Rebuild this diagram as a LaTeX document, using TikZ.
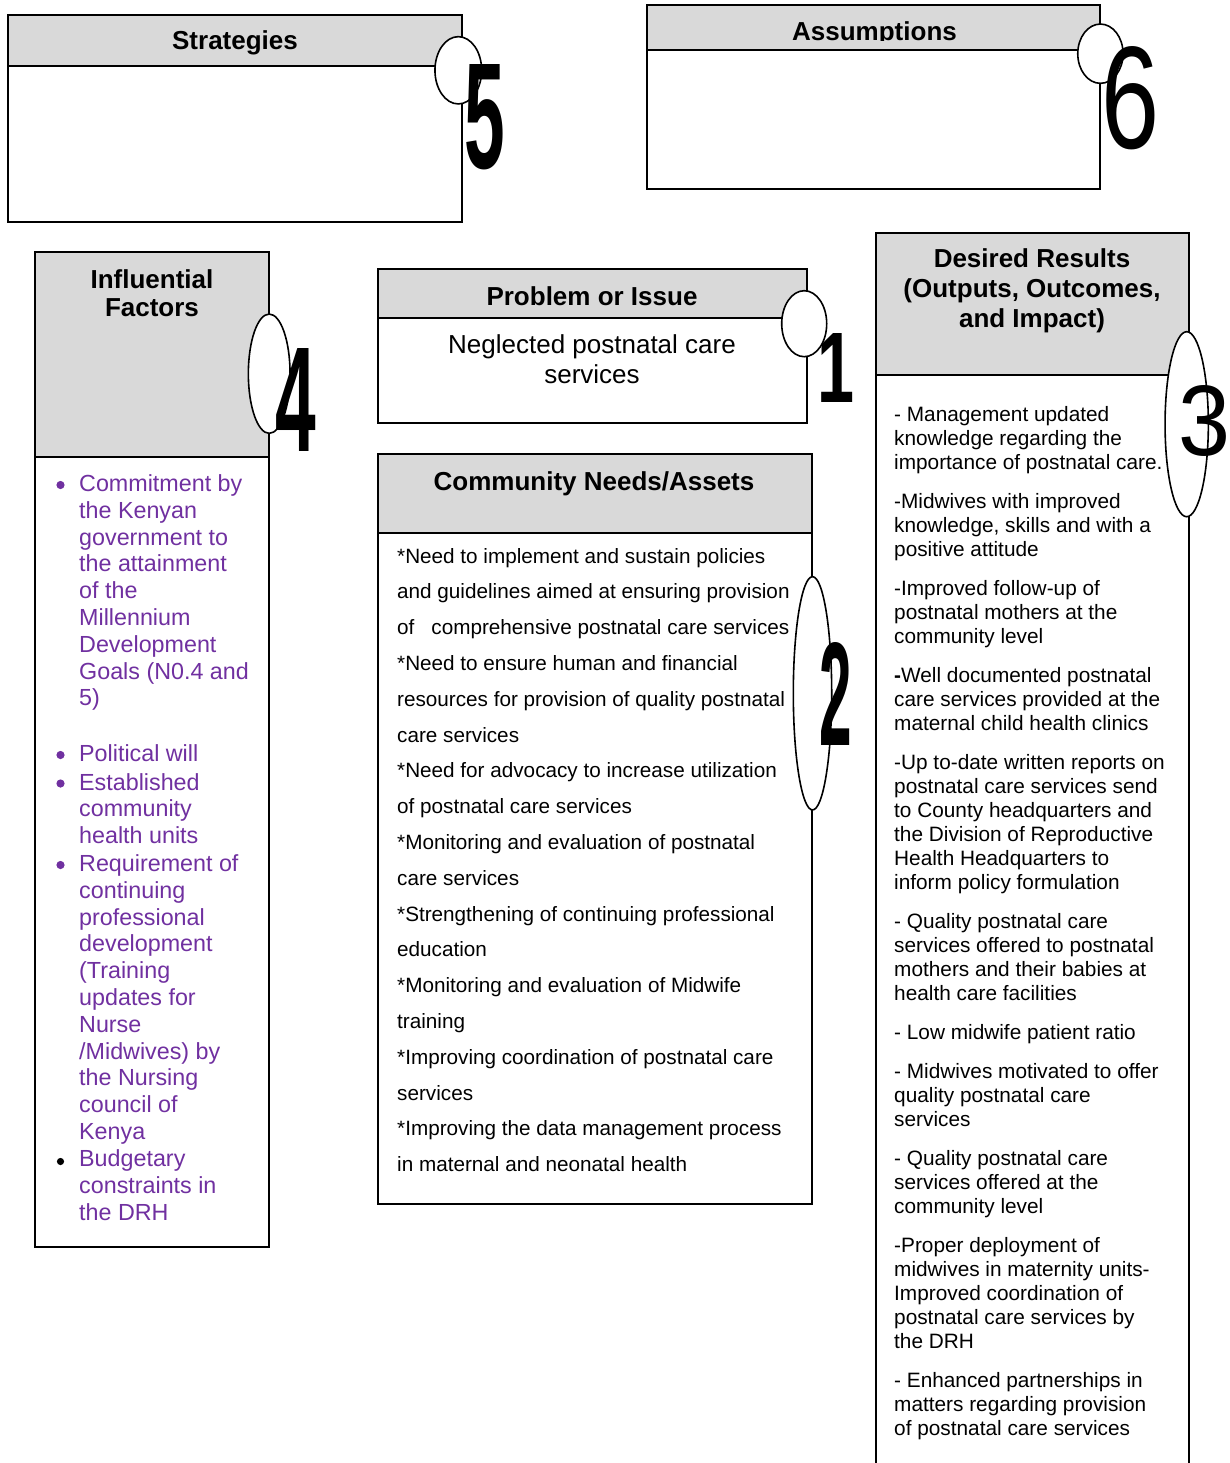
\documentclass[tikz,border=0pt]{standalone}
\usepackage{fontspec}
\setmainfont{Liberation Sans}
\usepackage{graphicx}
\usetikzlibrary{shapes.geometric}
\definecolor{hdrgray}{RGB}{217,217,217}
\definecolor{infpurple}{RGB}{112,48,160}
\newcommand{\bigdigit}[4]{\resizebox{#1pt}{#2pt}{\fontsize{100}{100}\selectfont#3#4}}
\begin{document}
\begin{tikzpicture}[x=1pt,y=-1pt,
  frame/.style={draw=black, line width=1.6pt},
  ell/.style={ellipse, draw=black, line width=1.6pt, fill=white, inner sep=0pt},
  ttl/.style={font=\fontsize{26}{30}\selectfont\bfseries, inner sep=0pt, anchor=base},
  probtxt/.style={font=\fontsize{26}{30}\selectfont, inner sep=0pt, anchor=base},
  para/.style={inner sep=0pt, anchor=base west},
  num/.style={inner sep=0pt, anchor=center},
  pbul/.style={fill=infpurple, draw=none},
  kbul/.style={fill=black, draw=none}]
\useasboundingbox (0,0) rectangle (1229,1463);
\clip (0,0) rectangle (1229,1463);

% ---------- Strategies ----------
\fill[hdrgray] (8,15) rectangle (462,66);
\draw[frame] (8,15) rectangle (462,222);
\draw[frame] (8,66) -- (462,66);
\node[ttl] (tStr) at (235,50) {Strategies};

% ---------- Assumptions ----------
\fill[hdrgray] (647,5) rectangle (1100,50);
\draw[frame] (647,5) rectangle (1100,189);
\draw[frame] (647,50) -- (1100,50);
\begin{scope}
  \clip (647,5) rectangle (1100,41);
  \node[ttl] (tAss) at (874.5,40.5) {Assumptions};
\end{scope}

% ---------- Influential Factors ----------
\fill[hdrgray] (35,252) rectangle (269,457);
\draw[frame] (35,252) rectangle (269,1247);
\draw[frame] (35,457) -- (269,457);
\node[ttl] (tInfA) at (152,288) {Influential};
\node[ttl] (tInfB) at (152,316) {Factors};

\fill[pbul] (60.5,485) circle (4.1);
\fill[pbul] (60.5,755) circle (4.1);
\fill[pbul] (60.5,783.5) circle (4.1);
\fill[pbul] (60.5,865) circle (4.1);
\fill[kbul] (60.5,1161.5) circle (3.6);
\node[para, text=infpurple] (inf1) at (79,491.5) {\parbox[t]{190pt}{\fontsize{23.3}{26.8}\selectfont
Commitment by\\the Kenyan\\government to\\the attainment\\of the\\Millennium\\Development\\Goals (N0.4 and\\5)}};
\node[para, text=infpurple] (inf2) at (79,761.5) {\parbox[t]{190pt}{\fontsize{23.3}{26.8}\selectfont
Political will}};
\node[para, text=infpurple] (inf3) at (79,790) {\parbox[t]{190pt}{\fontsize{23.3}{26.8}\selectfont
Established\\community\\health units}};
\node[para, text=infpurple] (inf4) at (79,871.5) {\parbox[t]{190pt}{\fontsize{23.3}{26.8}\selectfont
Requirement of\\continuing\\professional\\development\\(Training\\updates for\\Nurse\\/Midwives) by\\the Nursing\\council of\\Kenya}};
\node[para, text=infpurple] (inf5) at (79,1166.5) {\parbox[t]{190pt}{\fontsize{23.3}{26.8}\selectfont
Budgetary\\constraints in\\the DRH}};

% ---------- Problem or Issue ----------
\fill[hdrgray] (378,269) rectangle (807,318);
\draw[frame] (378,269) rectangle (807,423);
\draw[frame] (378,318) -- (807,318);
\node[ttl] (tProb) at (592,305) {Problem or Issue};
\node[probtxt] (prA) at (592,353) {Neglected postnatal care};
\node[probtxt] (prB) at (592,383) {services};

% ---------- Community Needs/Assets ----------
\fill[hdrgray] (378,454) rectangle (812,533);
\draw[frame] (378,454) rectangle (812,1204);
\draw[frame] (378,533) -- (812,533);
\node[ttl] (tCom) at (594,490) {Community Needs/Assets};
\node[para] (com) at (397,563) {\parbox[t]{420pt}{\fontsize{20.7}{35.8}\selectfont
{*}Need to implement and sustain policies\\
and guidelines aimed at ensuring provision\\
of\hspace*{17pt}comprehensive postnatal care services\\
{*}Need to ensure human and financial\\
resources for provision of quality postnatal\\
care services\\
{*}Need for advocacy to increase utilization\\
of postnatal care services\\
{*}Monitoring and evaluation of postnatal\\
care services\\
{*}Strengthening of continuing professional\\
education\\
{*}Monitoring and evaluation of Midwife\\
training\\
{*}Improving coordination of postnatal care\\
services\\
{*}Improving the data management process\\
in maternal and neonatal health}};

% ---------- Desired Results ----------
\fill[hdrgray] (876,233) rectangle (1189,375);
\draw[frame] (876,1475) -- (876,233) -- (1189,233) -- (1189,1475);
\draw[frame] (876,375) -- (1189,375);
\node[ttl] (tDesA) at (1032,267) {Desired Results};
\node[ttl] (tDesB) at (1032,297) {(Outputs, Outcomes,};
\node[ttl] (tDesC) at (1032,327) {and Impact)};
\node[para] (des) at (894,421) {\parbox[t]{300pt}{\fontsize{20.8}{24}\selectfont
- Management updated\\knowledge regarding the\\importance of postnatal care.\\[15pt]
-Midwives with improved\\knowledge, skills and with a\\positive attitude\\[15pt]
-Improved follow-up of\\postnatal mothers at the\\community level\\[15pt]
\textbf{-}Well documented postnatal\\care services provided at the\\maternal child health clinics\\[15pt]
-Up to-date written reports on\\postnatal care services send\\to County headquarters and\\the Division of Reproductive\\Health Headquarters to\\inform policy formulation\\[15pt]
- Quality postnatal care\\services offered to postnatal\\mothers and their babies at\\health care facilities\\[15pt]
- Low midwife patient ratio\\[15pt]
- Midwives motivated to offer\\quality postnatal care\\services\\[15pt]
- Quality postnatal care\\services offered at the\\community level\\[15pt]
-Proper deployment of\\midwives in maternity units-\\Improved coordination of\\postnatal care services by\\the DRH\\[15pt]
- Enhanced partnerships in\\matters regarding provision\\of postnatal care services}};

% ---------- numbered ellipses ----------
\node[ell, minimum width=46.7pt, minimum height=67.3pt] (e5) at (458.3,70.3) {};
\node[ell, minimum width=45.3pt, minimum height=59.3pt] (e6) at (1100.4,53.7) {};
\node[ell, minimum width=41.7pt, minimum height=119.3pt] (e4) at (269.2,373.7) {};
\node[ell, minimum width=45pt, minimum height=66pt] (e1) at (804.2,323.7) {};
\node[ell, minimum width=43.3pt, minimum height=185pt] (e3) at (1186.7,424.2) {};
\node[ell, minimum width=38.4pt, minimum height=233.3pt] (e2) at (812.5,693.3) {};

\node[num] (n5) at (484.5,117) {\bigdigit{40.6}{104}{\bfseries}{5}};
\node[num] (n6) at (1130,98) {\bigdigit{58}{102}{}{6}};
\node[num] (n4) at (295.5,399.5) {\bigdigit{40.6}{103}{\bfseries}{4}};
\node[num] (n1) at (836,367.5) {\bigdigit{37}{69}{\bfseries}{1}};
\node[num] (n3) at (1204.5,421) {\bigdigit{52}{70}{}{3}};
\node[num] (n2) at (836,693.5) {\bigdigit{32.5}{103}{\bfseries}{2}};
\end{tikzpicture}
\end{document}
